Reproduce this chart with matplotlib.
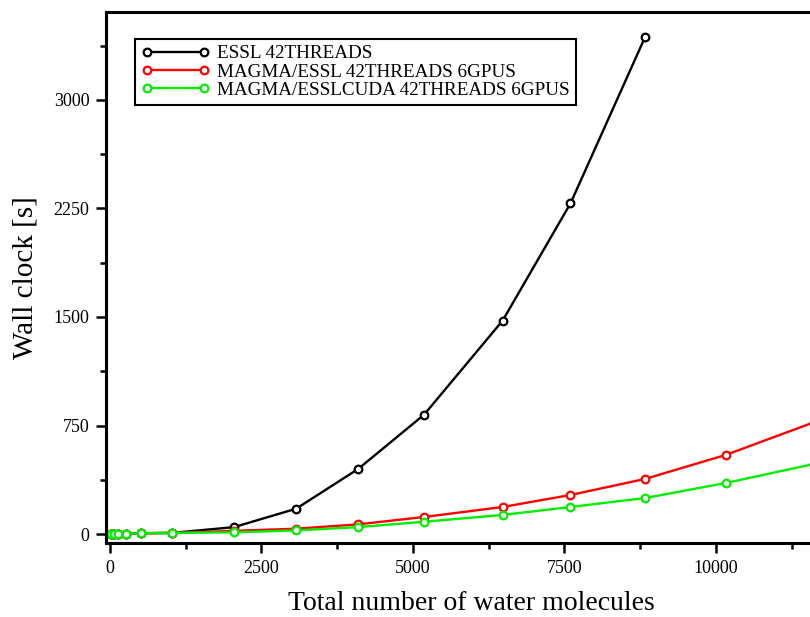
import matplotlib
matplotlib.use("Agg")
import matplotlib.pyplot as plt
from matplotlib.ticker import MultipleLocator

# water molecules in the box
n_water = [8, 64, 128, 256, 512, 1024, 2048, 3072, 4096, 5184, 6480, 7600, 8832, 10164, 11616]

# wall clock [s]
essl = [0, 1, 2, 3, 6, 8, 48, 175, 450, 825, 1475, 2285, 3435]
magma_essl = [0, 1, 2, 3, 5, 8, 22, 37, 67, 118, 187, 270, 381, 547, 772]
magma_esslcuda = [0, 1, 2, 3, 5, 8, 12, 25, 48, 85, 132, 187, 249, 353, 484]

labels = ["ESSL 42THREADS",
          "MAGMA/ESSL 42THREADS 6GPUS",
          "MAGMA/ESSLCUDA 42THREADS 6GPUS"]
colors = ["black", "#ff0000", "#00ee00"]

plt.rcParams['font.family'] = ['Liberation Serif', 'DejaVu Serif']

fig = plt.figure(figsize=(8.1, 6.17), dpi=100)
ax = fig.add_axes([0.1309, 0.1199, 0.9025, 0.8607])

series = [essl, magma_essl, magma_esslcuda]
for ys, lab, col in zip(series, labels, colors):
    ax.plot(n_water[:len(ys)], ys, color=col, lw=1.7, marker='o', ms=5.5,
            mfc='white', mec=col, mew=1.6, label=lab)

ax.set_xlim(-66, 12000)
ax.set_ylim(-62, 3608)
ax.xaxis.set_major_locator(MultipleLocator(2500))
ax.xaxis.set_minor_locator(MultipleLocator(1250))
ax.yaxis.set_major_locator(MultipleLocator(750))
ax.yaxis.set_minor_locator(MultipleLocator(375))

for s in ax.spines.values():
    s.set_linewidth(2.2)
ax.tick_params(which='major', direction='out', length=7, width=1.8,
               labelsize=13, pad=5)
ax.tick_params(which='minor', direction='out', length=4.5, width=1.8)
ax.tick_params(top=False, right=False, which='both')

ax.set_xlabel("Total number of water molecules", fontsize=20, labelpad=10)
ax.set_ylabel("Wall clock [s]", fontsize=21, labelpad=11)

leg = ax.legend(loc='upper left', bbox_to_anchor=(0.0397, 0.949),
                borderaxespad=0, numpoints=2, handlelength=3.6,
                fontsize=13.8, fancybox=False, framealpha=1,
                edgecolor='black', labelspacing=0.05, borderpad=0.3,
                handletextpad=0.4)
leg.get_frame().set_linewidth(1.5)

fig.savefig("out.png", dpi=100)
